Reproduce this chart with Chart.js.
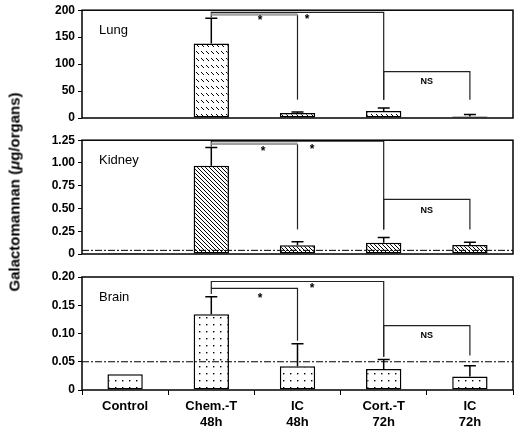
<!DOCTYPE html>
<html>
<head>
<meta charset="utf-8">
<script src="https://cdn.jsdelivr.net/npm/chart.js@4"></script>
<style>
  body { margin: 0; background: #fff; }
  #wrap { position: relative; width: 528px; height: 433px; }
  canvas { position: absolute; left: 0; }
  #ytitle {
    position: absolute; left: 14px; top: 192px;
    transform: translate(-50%, -50%) rotate(-90deg);
    font: bold 15px "Liberation Sans", Arial, sans-serif;
    white-space: nowrap; color: #000;
  }
</style>
</head>
<body>
<div id="wrap">
  <canvas id="lung" width="528" height="130" style="top:0px"></canvas>
  <canvas id="kidney" width="528" height="135" style="top:130px"></canvas>
  <canvas id="brain" width="528" height="168" style="top:265px"></canvas>
  <div id="ytitle">Galactomannan (<i>μ</i>g/organs)</div>
</div>
<script>
// categories (x axis)
const categories = [['Control'], ['Chem.-T', '48h'], ['IC', '48h'], ['Cort.-T', '72h'], ['IC', '72h']];

// Lung
const lungMeans = [null, 138, 9.5, 13, 3];
const lungUpper = [null, 185, 11, 18.5, 6.5];
const lungTicks = [0, 50, 100, 150, 200];

// Kidney
const kidneyMeans = [0.012, 0.97, 0.095, 0.123, 0.10];
const kidneyUpper = [null, 1.17, 0.134, 0.18, 0.13];
const kidneyTicks = [0, 0.25, 0.5, 0.75, 1.0, 1.25];
const kidneyCutoff = 0.04;

// Brain
const brainMeans = [0.028, 0.134, 0.042, 0.037, 0.024];
const brainUpper = [null, 0.165, 0.082, 0.054, 0.043];
const brainTicks = [0, 0.05, 0.10, 0.15, 0.20];
const brainCutoff = 0.05;

// significance brackets: from/to category, top value, bottom of left / right legs
const lungBrackets = [
  { from: 1, to: 3, top: 196, left: 187, right: 34 },
  { from: 1, to: 2, top: 192, left: 192, right: 34, gray: true },
  { from: 3, to: 4, top: 86, left: 34, right: 34 }
];
const kidneyBrackets = [
  { from: 1, to: 3, top: 1.24, left: 1.18, right: 0.27 },
  { from: 1, to: 2, top: 1.21, left: 1.21, right: 0.27, gray: true },
  { from: 3, to: 4, top: 0.6, left: 0.27, right: 0.27 }
];
const brainBrackets = [
  { from: 1, to: 3, top: 0.192, left: 0.18, right: 0.059 },
  { from: 1, to: 2, top: 0.18, left: 0.17, right: 0.087 },
  { from: 3, to: 4, top: 0.114, left: 0.059, right: 0.061 }
];
const lungMarks = [{ x: 1.565, y: 180, t: '*' }, { x: 2.11, y: 182, t: '*' }, { x: 3.5, y: 68, t: 'NS' }];
const kidneyMarks = [{ x: 1.6, y: 1.125, t: '*' }, { x: 2.17, y: 1.15, t: '*' }, { x: 3.5, y: 0.48, t: 'NS' }];
const brainMarks = [{ x: 1.565, y: 0.161, t: '*' }, { x: 2.17, y: 0.179, t: '*' }, { x: 3.5, y: 0.096, t: 'NS' }];

const FONT = '"Liberation Sans", Arial, sans-serif';

function makePattern(kind) {
  const c = document.createElement('canvas');
  const g = c.getContext('2d');
  if (kind === 'dash') {
    c.width = 5; c.height = 7;
    g.fillStyle = '#fff'; g.fillRect(0, 0, 5, 7);
    g.strokeStyle = '#000'; g.lineWidth = 1;
    g.beginPath(); g.moveTo(1, 2); g.lineTo(4, 5); g.stroke();
  } else if (kind === 'hatch') {
    c.width = 4; c.height = 4;
    g.fillStyle = '#fff'; g.fillRect(0, 0, 4, 4);
    g.strokeStyle = '#000'; g.lineWidth = 1;
    g.beginPath();
    for (let k = -1; k <= 1; k++) { g.moveTo(k * 4, 0); g.lineTo(k * 4 + 4, 4); }
    g.stroke();
  } else {
    c.width = 7; c.height = 7;
    g.fillStyle = '#fff'; g.fillRect(0, 0, 7, 7);
    g.fillStyle = '#000'; g.fillRect(3, 3, 1.4, 1.4);
  }
  return g.createPattern(c, 'repeat');
}

const panelPlugin = {
  id: 'panel',
  afterDatasetsDraw(chart) {
    const o = chart.options.plugins.panel;
    const ctx = chart.ctx;
    const xs = chart.scales.x, ys = chart.scales.y;
    const a = chart.chartArea;
    const meta = chart.getDatasetMeta(0);
    ctx.save();
    // cutoff line
    if (o.cutoff != null) {
      const y = ys.getPixelForValue(o.cutoff);
      ctx.strokeStyle = '#000'; ctx.lineWidth = 1;
      ctx.setLineDash([7, 2, 2, 2]);
      ctx.beginPath(); ctx.moveTo(a.left, y); ctx.lineTo(a.right, y); ctx.stroke();
      ctx.setLineDash([]);
    }
    // error bars
    ctx.strokeStyle = '#000'; ctx.lineWidth = 1.5;
    o.upper.forEach((u, i) => {
      if (u == null) return;
      const bar = meta.data[i];
      const y0 = ys.getPixelForValue(o.means[i]);
      const y1 = ys.getPixelForValue(u);
      ctx.beginPath();
      ctx.moveTo(bar.x, y0); ctx.lineTo(bar.x, y1);
      ctx.moveTo(bar.x - 6, y1); ctx.lineTo(bar.x + 6, y1);
      ctx.stroke();
    });
    // brackets
    o.brackets.forEach(b => {
      const xa = xs.getPixelForValue(b.from), xb = xs.getPixelForValue(b.to);
      const yt = ys.getPixelForValue(b.top);
      ctx.strokeStyle = '#222'; ctx.lineWidth = 1.2;
      if (b.gray) {
        ctx.beginPath();
        ctx.moveTo(xb, yt); ctx.lineTo(xb, ys.getPixelForValue(b.right));
        ctx.stroke();
        ctx.strokeStyle = '#a0a0a0'; ctx.lineWidth = 2.5;
        ctx.beginPath(); ctx.moveTo(xa, yt); ctx.lineTo(xb, yt); ctx.stroke();
        return;
      }
      ctx.beginPath();
      ctx.moveTo(xa, ys.getPixelForValue(b.left));
      ctx.lineTo(xa, yt); ctx.lineTo(xb, yt);
      ctx.lineTo(xb, ys.getPixelForValue(b.right));
      ctx.stroke();
    });
    // marks
    ctx.fillStyle = '#000'; ctx.textAlign = 'center'; ctx.textBaseline = 'middle';
    o.marks.forEach(m => {
      ctx.font = m.t === '*' ? 'bold 12px ' + FONT : 'bold 9px ' + FONT;
      ctx.fillText(m.t, xs.getPixelForValue(m.x), ys.getPixelForValue(m.y));
    });
    // organ label
    ctx.font = '13px ' + FONT; ctx.textAlign = 'left';
    ctx.fillText(o.label, a.left + 17, a.top + 20);
    // box
    ctx.strokeStyle = '#000'; ctx.lineWidth = 1.5;
    ctx.strokeRect(a.left, a.top, a.right - a.left, a.bottom - a.top);
    ctx.restore();
  }
};

function makePanel(id, cfg) {
  const ticks = cfg.ticks;
  new Chart(document.getElementById(id), {
    type: 'bar',
    data: {
      labels: categories,
      datasets: [{
        data: cfg.means,
        backgroundColor: makePattern(cfg.pattern),
        borderColor: '#000',
        borderWidth: 1.5,
        borderSkipped: false,
        barPercentage: 0.41,
        categoryPercentage: 1
      }]
    },
    options: {
      responsive: false,
      animation: false,
      layout: { padding: { left: 0, right: 15, top: cfg.padTop, bottom: cfg.padBottom } },
      plugins: {
        legend: { display: false },
        tooltip: { enabled: false },
        panel: {
          means: cfg.means, upper: cfg.upper, brackets: cfg.brackets,
          marks: cfg.marks, cutoff: cfg.cutoff, label: cfg.label
        }
      },
      scales: {
        x: {
          display: cfg.showX,
          grid: { offset: true, drawOnChartArea: false, tickLength: 5, color: '#000', lineWidth: 1 },
          border: { display: false },
          ticks: { color: '#000', font: { family: FONT, size: 13, weight: 'bold' }, padding: 4, maxRotation: 0 },
          afterFit: s => { s.height = cfg.xHeight || 0; }
        },
        y: {
          min: ticks[0],
          max: ticks[ticks.length - 1],
          grid: { drawOnChartArea: false, tickLength: 4, color: '#000' },
          border: { display: false },
          ticks: {
            stepSize: ticks[1] - ticks[0],
            color: '#000',
            padding: 3,
            font: { family: FONT, size: 12, weight: 'bold' },
            callback: v => v === 0 ? '0' : (cfg.decimals ? v.toFixed(cfg.decimals) : v)
          },
          afterFit: s => { s.width = 82; }
        }
      }
    },
    plugins: [panelPlugin]
  });
}

makePanel('lung', {
  means: lungMeans, upper: lungUpper, ticks: lungTicks, brackets: lungBrackets, marks: lungMarks,
  cutoff: null, label: 'Lung', pattern: 'dash', padTop: 7, padBottom: 12, showX: false, decimals: 0
});
makePanel('kidney', {
  means: kidneyMeans, upper: kidneyUpper, ticks: kidneyTicks, brackets: kidneyBrackets, marks: kidneyMarks,
  cutoff: kidneyCutoff, label: 'Kidney', pattern: 'hatch', padTop: 9, padBottom: 11, showX: false, decimals: 2
});
makePanel('brain', {
  means: brainMeans, upper: brainUpper, ticks: brainTicks, brackets: brainBrackets, marks: brainMarks,
  cutoff: brainCutoff, label: 'Brain', pattern: 'dots', padTop: 12, padBottom: 0, showX: true, xHeight: 43, decimals: 2
});
</script>
</body>
</html>
